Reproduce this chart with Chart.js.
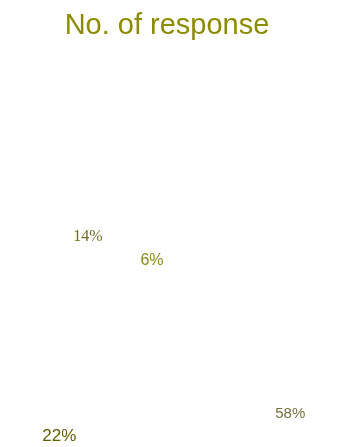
<!DOCTYPE html>
<html>
<head>
<meta charset="utf-8">
<script src="https://cdn.jsdelivr.net/npm/chart.js@4"></script>
<style>
  body { margin: 0; background: #fff; }
  #wrap { width: 341px; height: 447px; }
</style>
</head>
<body>
<div id="wrap"><canvas id="myChart"></canvas></div>
<script>
var categories = ["Response A", "Response B", "Response C", "Response D"];
var responses = [58, 22, 14, 6];

// label look, one entry per slice
var labelFonts = [
  "15px 'Liberation Sans', Arial, sans-serif",
  "17px 'Liberation Sans Narrow', 'Liberation Sans', Arial, sans-serif",
  "16px 'Liberation Serif', 'Times New Roman', serif",
  "16px 'Liberation Sans', Arial, sans-serif"
];
var labelColors = ["#73733f", "#5f5f00", "#6e6e1c", "#8a8a14"];
var labelDist = [2.10, 1.97, 2.82, 2.11];   // times the outer radius
var labelTurn = [-2, -3, 19, 4];            // degrees off the slice middle

var sliceLabels = {
  id: "sliceLabels",
  afterDatasetsDraw: function(chart) {
    var ctx = chart.ctx;
    var meta = chart.getDatasetMeta(0);
    ctx.save();
    ctx.textAlign = "center";
    ctx.textBaseline = "middle";
    meta.data.forEach(function(arc, i) {
      var p = arc.getProps(["x", "y", "startAngle", "endAngle", "outerRadius"], true);
      var a = (p.startAngle + p.endAngle) / 2 + labelTurn[i] * Math.PI / 180;
      var r = p.outerRadius * labelDist[i];
      ctx.font = labelFonts[i];
      ctx.fillStyle = labelColors[i];
      ctx.fillText(responses[i] + "%", p.x + Math.cos(a) * r, p.y + Math.sin(a) * r);
    });
    ctx.restore();
  }
};

new Chart("myChart", {
  type: "pie",
  data: {
    labels: categories,
    datasets: [{
      data: responses,
      backgroundColor: "#ffffff",
      borderColor: "#ffffff",
      borderWidth: 0,
      hoverOffset: 0
    }]
  },
  options: {
    responsive: true,
    maintainAspectRatio: false,
    animation: false,
    events: [],
    layout: { padding: { right: 7 } },
    plugins: {
      legend: { display: false },
      tooltip: { enabled: false },
      title: {
        display: true,
        text: "No. of response",
        color: "#8c8c00",
        font: { family: "'Liberation Sans', Arial, sans-serif", size: 29, weight: "normal" },
        padding: { top: 9, bottom: 283 }
      }
    }
  },
  plugins: [sliceLabels]
});
</script>
</body>
</html>
